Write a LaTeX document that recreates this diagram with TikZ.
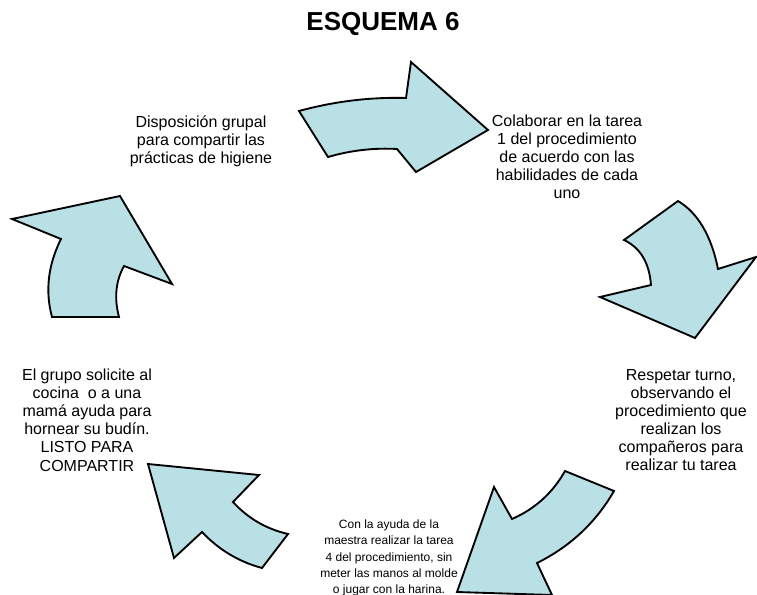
\documentclass[tikz,border=0pt]{standalone}
\usepackage{fontspec}
\setmainfont{Liberation Sans}
\usepackage{xcolor}
\usepackage{tikz}
\usetikzlibrary{positioning}
\definecolor{celeste}{RGB}{185,224,228}
\tikzset{flecha/.style = {fill=celeste, draw=black, line width=1.4pt, line join=miter}}

\begin{document}
\begin{tikzpicture}[x=0.75pt, y=-0.75pt]
		\useasboundingbox (0,0) rectangle (757,595);
		\node[font=\fontsize{19.5}{23}\selectfont\bfseries] (T) at (383,24) {ESQUEMA 6};
		\begin{scope}[every node/.style = {align=center, inner sep=0pt, font=\fontsize{12}{13.6}\selectfont}]
			\node (D) at (201,141) {Disposición grupal\\para compartir las\\prácticas de higiene};
			\node (C) at (567,157) {Colaborar en la tarea\\1 del procedimiento\\de acuerdo con las\\habilidades de cada\\uno};
			\node (R) at (681,420) {Respetar turno,\\observando el\\procedimiento que\\realizan los\\compañeros para\\realizar tu tarea};
			\node[font=\fontsize{9}{12.2}\selectfont] (M) at (389,558) {Con la ayuda de la\\maestra realizar la tarea\\4 del procedimiento, sin\\meter las manos al molde\\o jugar con la harina.};
			\node (G) at (87,420) {El grupo solicite al\\cocina\ \ o a una\\mamá ayuda para\\hornear su budín.\\LISTO PARA\\COMPARTIR};
		\end{scope}
		\begin{scope}
			% arriba
			\draw[flecha] (299,111) .. controls (334.7,101.3) and (370.3,97) .. (406,98) -- (411,62) -- (488,130) -- (416,172) -- (397,149) .. controls (374,147.7) and (351,150.3) .. (328,157) -- cycle;
			% derecha
			\draw[flecha] (678,201) -- (624,240) .. controls (640.3,247.7) and (649.3,262.7) .. (651,285) -- (600,297) -- (695,338) -- (756,257) -- (718,269) .. controls (711.3,235.7) and (698,213) .. (678,201) -- cycle;
			% abajo derecha
			\draw[flecha] (565,471) -- (614,491) .. controls (595.7,522.7) and (570,546.7) .. (537,563) -- (552,595) -- (457,592) -- (494,487) -- (512,519) .. controls (535,508.9) and (552.7,492.9) .. (565,471) -- cycle;
			% abajo izquierda
			\draw[flecha] (148,464) -- (259,475) -- (233,502) .. controls (248,518.4) and (266.3,529) .. (288,534) -- (262,568) .. controls (238.7,561.7) and (218.7,549.7) .. (202,532) -- (174,558) -- cycle;
			% izquierda
			\draw[flecha] (12,219) -- (120,196) -- (172,284) -- (124,266) .. controls (115.7,281) and (114,298) .. (119,317) -- (52,317) .. controls (45,291) and (48,265) .. (61,239) -- cycle;
		\end{scope}
	\end{tikzpicture}
\end{document}
